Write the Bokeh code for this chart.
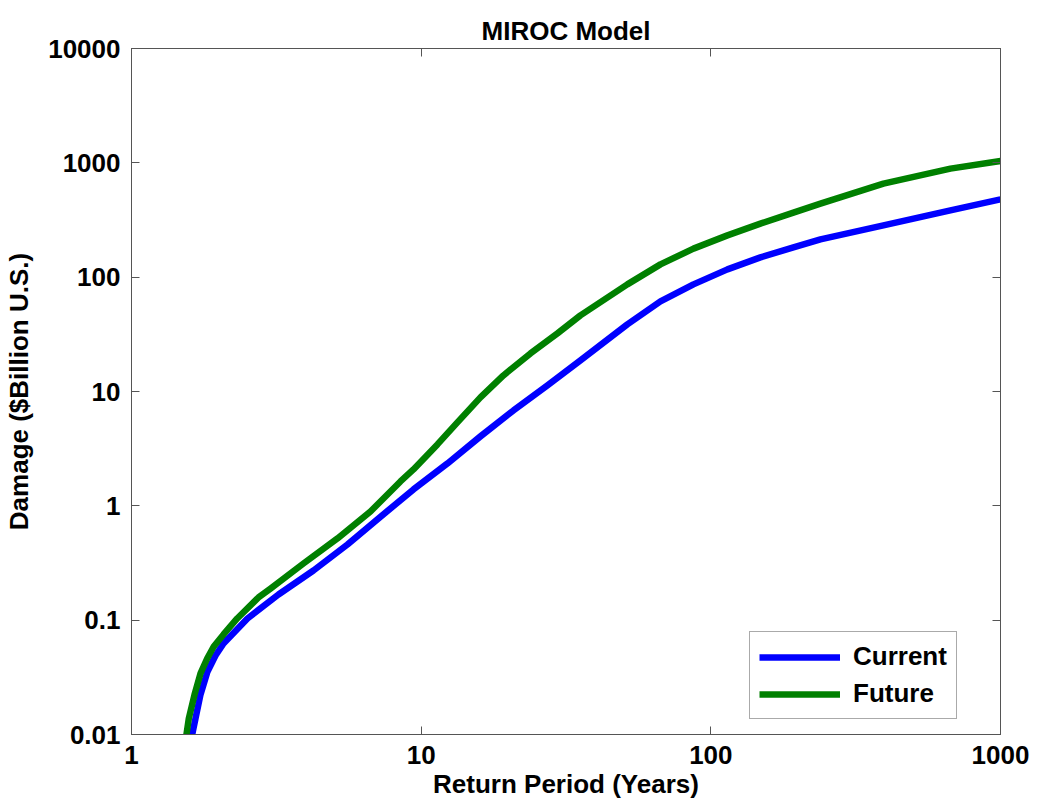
from bokeh.plotting import figure
from bokeh.models import LogAxis, FixedTicker, CustomJSTickFormatter, Legend, LegendItem, Range1d
from bokeh.embed import file_html
from bokeh.resources import INLINE

# ---- data ----
current_x = [1.605, 1.620, 1.663, 1.731, 1.825, 1.950, 2.078, 2.514, 3.217, 4.248, 5.567,
             7.122, 9.406, 12.33, 16.02, 20.83, 27.29, 35.47, 51.5, 67.0, 87.1, 114.1,
             148.3, 192.8, 239.0, 394.3, 671.6, 1000.0]
current_y = [0.0089, 0.01, 0.0138, 0.0224, 0.0349, 0.0491, 0.0625, 0.1035, 0.1678, 0.272,
             0.459, 0.776, 1.391, 2.35, 4.05, 6.83, 11.31, 18.72, 38.6, 61.4, 86.5, 117.0,
             149.0, 182.3, 214.1, 283.9, 384.1, 479.4]

future_x = [1.536, 1.548, 1.577, 1.654, 1.731, 1.825, 1.923, 2.078, 2.317, 2.744, 3.019,
            3.923, 5.142, 6.684, 8.482, 9.406, 11.38, 13.34, 16.02, 19.23, 23.84, 29.55,
            35.47, 51.5, 67.0, 87.1, 114.1, 148.3, 192.8, 239.0, 394.3, 671.6, 1000.0]
future_y = [0.0089, 0.01, 0.0138, 0.0228, 0.0342, 0.0462, 0.0589, 0.075, 0.1035, 0.158, 0.189,
            0.313, 0.519, 0.893, 1.635, 2.08, 3.445, 5.37, 8.88, 13.83, 21.54, 32.23,
            46.32, 86.5, 129.4, 177.6, 232.1, 293.9, 366.7, 439.6, 657.7, 889.8, 1036.8]

series_names = ["Current", "Future"]
series_colors = ["#0000FF", "#008000"]

x_ticks = [1, 10, 100, 1000]
x_tick_labels = ["1", "10", "100", "1000"]
y_ticks = [0.01, 0.1, 1, 10, 100, 1000, 10000]
y_tick_labels = ["0.01", "0.1", "1", "10", "100", "1000", "10000"]

title_text = "MIROC Model"
x_label = "Return Period (Years)"
y_label = "Damage ($Billion U.S.)"

FONT = "Liberation Sans"
FS = "26px"
AX_COLOR = "#555555"

p = figure(width=1030, height=805, x_axis_type="log", y_axis_type="log",
           x_range=Range1d(x_ticks[0], x_ticks[-1]), y_range=Range1d(y_ticks[0], y_ticks[-1]),
           output_backend="svg", toolbar_location=None,
           min_border_left=131, min_border_right=30, min_border_top=48, min_border_bottom=71)

p.background_fill_color = "white"
p.border_fill_color = "white"
p.outline_line_color = AX_COLOR
p.xgrid.grid_line_color = None
p.ygrid.grid_line_color = None

p.title.text = title_text
p.title.align = "center"
p.title.vertical_align = "top"
p.title.text_font = FONT
p.title.text_font_size = FS
p.title.text_font_style = "bold"
p.title.text_color = "black"
p.title.standoff = 2

LABEL_CODE = """
let best = 0, bd = Infinity;
for (let i = 0; i < t.length; i++) {
  const d = Math.abs(Math.log10(tick) - Math.log10(t[i]));
  if (d < bd) { bd = d; best = i; }
}
return l[best];
"""


def style_axis(ax, ticks, labels, show, standoff):
    ax.ticker = FixedTicker(ticks=ticks, minor_ticks=[])
    if show:
        ax.formatter = CustomJSTickFormatter(args=dict(t=ticks, l=labels), code=LABEL_CODE)
    else:
        ax.formatter = CustomJSTickFormatter(code="return '';")
    ax.major_tick_in = 8
    ax.major_tick_out = 0
    ax.minor_tick_in = 0
    ax.minor_tick_out = 0
    ax.axis_line_color = AX_COLOR
    ax.major_tick_line_color = AX_COLOR
    ax.major_label_text_font = FONT
    ax.major_label_text_font_size = FS
    ax.major_label_text_font_style = "bold"
    ax.major_label_text_color = "black"
    ax.major_label_standoff = standoff
    ax.axis_label_text_font = FONT
    ax.axis_label_text_font_size = FS
    ax.axis_label_text_font_style = "bold"
    ax.axis_label_text_color = "black"


style_axis(p.xaxis[0], x_ticks, x_tick_labels, True, 11)
style_axis(p.yaxis[0], y_ticks, y_tick_labels, True, 11)
p.xaxis[0].axis_label = x_label
p.xaxis[0].axis_label_standoff = 2
p.yaxis[0].axis_label = y_label
p.yaxis[0].axis_label_standoff = 11

top_axis = LogAxis()
style_axis(top_axis, x_ticks, x_tick_labels, False, 0)
p.add_layout(top_axis, "above")
right_axis = LogAxis()
style_axis(right_axis, y_ticks, y_tick_labels, False, 0)
p.add_layout(right_axis, "right")

r_cur = p.line(current_x, current_y, line_color=series_colors[0], line_width=6.5,
               line_join="round")
r_fut = p.line(future_x, future_y, line_color=series_colors[1], line_width=6.5,
               line_join="round")

legend = Legend(items=[LegendItem(label=series_names[0], renderers=[r_cur]),
                       LegendItem(label=series_names[1], renderers=[r_fut])],
                location=(618, 15))
legend.border_line_color = AX_COLOR
legend.border_line_width = 1
legend.background_fill_color = "white"
legend.background_fill_alpha = 1.0
legend.label_text_font = FONT
legend.label_text_font_size = FS
legend.label_text_font_style = "bold"
legend.label_text_color = "black"
legend.glyph_width = 81
legend.glyph_height = 28
legend.label_height = 28
legend.spacing = 6
legend.padding = 9
legend.margin = 0
legend.label_standoff = 13
p.add_layout(legend)

open("out.html", "w").write(file_html(p, INLINE))
